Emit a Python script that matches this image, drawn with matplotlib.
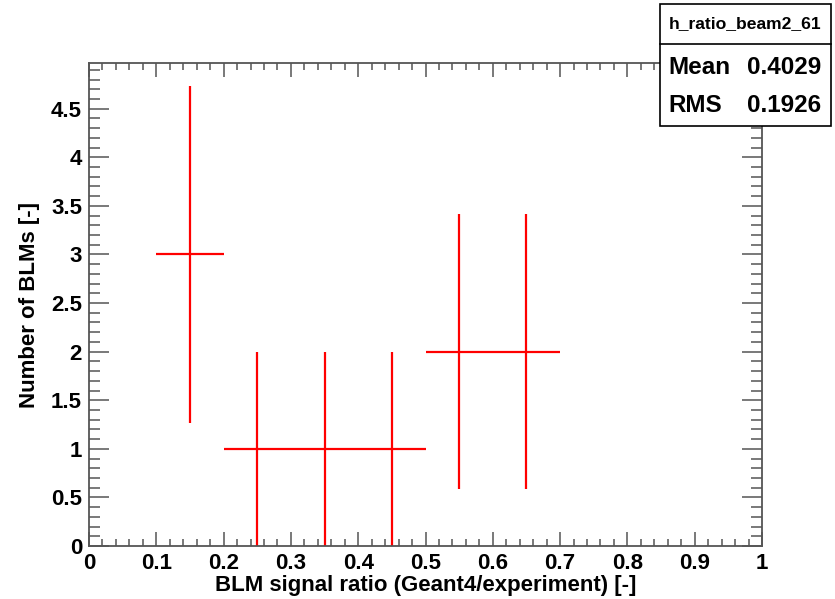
import matplotlib
matplotlib.use('Agg')
import matplotlib.pyplot as plt
from matplotlib.ticker import MultipleLocator

# histogram h_ratio_beam2_61 (only filled bins are drawn)
bin_centers = [0.15, 0.25, 0.35, 0.45, 0.55, 0.65]
counts = [3, 1, 1, 1, 2, 2]
count_errors = [1.732, 1.0, 1.0, 1.0, 1.414, 1.414]
bin_half_width = 0.05

hist_name = 'h_ratio_beam2_61'
mean_value = '0.4029'
rms_value = '0.1926'

plt.rcParams['font.family'] = ['Liberation Sans', 'DejaVu Sans']
plt.rcParams['font.weight'] = 'bold'

fig = plt.figure(figsize=(8.35, 5.99), dpi=100)
ax = fig.add_axes([0.1066, 0.0885, 0.806, 0.8063])

ax.errorbar(bin_centers, counts, xerr=bin_half_width, yerr=count_errors,
            fmt='none', ecolor='red', elinewidth=1.6, capsize=0)

ax.set_xlim(0, 1)
ax.set_ylim(0, 4.97)

ax.xaxis.set_major_locator(MultipleLocator(0.1))
ax.xaxis.set_minor_locator(MultipleLocator(0.02))
ax.yaxis.set_major_locator(MultipleLocator(0.5))
ax.yaxis.set_minor_locator(MultipleLocator(0.1))
ax.xaxis.set_major_formatter(lambda v, p: '0' if abs(v) < 1e-9 else ('1' if abs(v - 1) < 1e-9 else f'{v:.1f}'))
ax.yaxis.set_major_formatter(lambda v, p: f'{v:g}')

axis_col = '#555555'
for s in ax.spines.values():
    s.set_color(axis_col)
    s.set_linewidth(1.3)

ax.tick_params(axis='both', which='both', direction='in', top=True, right=True,
               color=axis_col, width=1.1, labelsize=16)
ax.tick_params(axis='x', which='major', length=10, pad=5)
ax.tick_params(axis='x', which='minor', length=5)
ax.tick_params(axis='y', which='major', length=14.4, pad=5)
ax.tick_params(axis='y', which='minor', length=7.9)
for lbl in ax.get_xticklabels() + ax.get_yticklabels():
    lbl.set_fontweight('bold')

ax.set_xlabel('BLM signal ratio (Geant4/experiment) [-]', fontsize=16,
              fontweight='bold', labelpad=1)
ax.set_ylabel('Number of BLMs [-]', fontsize=16, fontweight='bold', labelpad=8)

# statistics box
W, H = 835.0, 599.0
bx0, bx1 = 660 / W, 831 / W
by_top, by_sep, by_bot = 1 - 4 / H, 1 - 44 / H, 1 - 126 / H
box = plt.Rectangle((bx0, by_bot), bx1 - bx0, by_top - by_bot, transform=fig.transFigure,
                    facecolor='white', edgecolor='black', linewidth=1.2, zorder=5)
fig.add_artist(box)
fig.add_artist(plt.Line2D([bx0, bx1], [by_sep, by_sep], transform=fig.transFigure,
                          color='black', linewidth=1.2, zorder=6))
fig.text((bx0 + bx1) / 2, 1 - 24 / H, hist_name, ha='center', va='center',
         fontsize=12.6, fontweight='bold', zorder=7)
fig.text(668 / W, 1 - 68 / H, 'Mean', ha='left', va='center', fontsize=17.5, fontweight='bold', zorder=7)
fig.text(821 / W, 1 - 68 / H, mean_value, ha='right', va='center', fontsize=17.5, fontweight='bold', zorder=7)
fig.text(668 / W, 1 - 106 / H, 'RMS', ha='left', va='center', fontsize=17.5, fontweight='bold', zorder=7)
fig.text(821 / W, 1 - 106 / H, rms_value, ha='right', va='center', fontsize=17.5, fontweight='bold', zorder=7)

fig.savefig('out.png', dpi=100, facecolor='white')
